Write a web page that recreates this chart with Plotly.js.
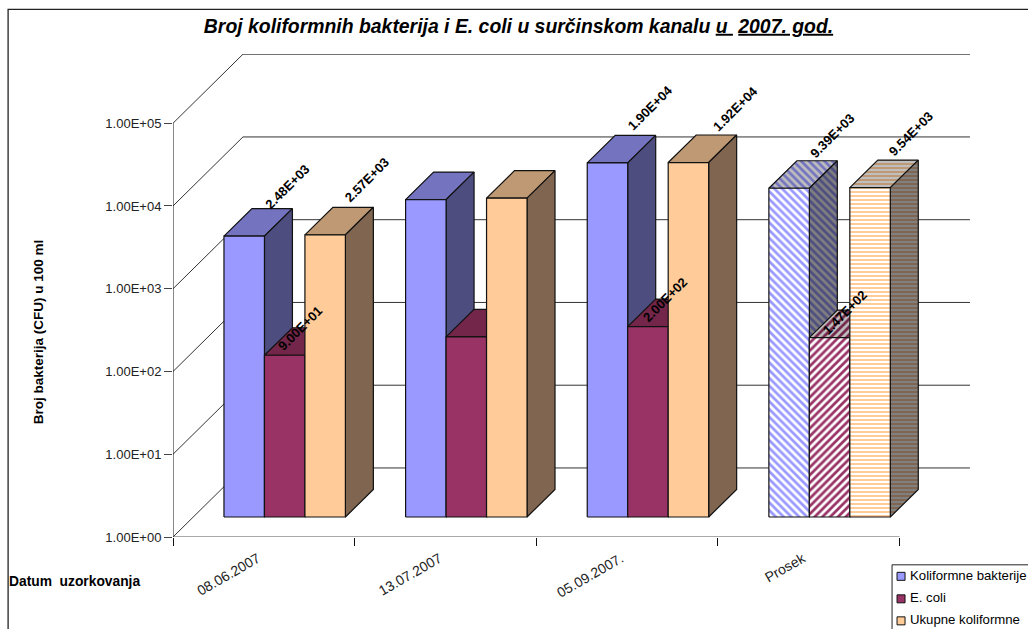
<!DOCTYPE html>
<html>
<head>
<meta charset="utf-8">
<script src="https://cdn.plot.ly/plotly-3.0.1.min.js"></script>
<style>html,body{margin:0;padding:0;background:#fff;overflow:hidden}#chart{width:1028px;height:629px}</style>
</head>
<body>
<div id="chart"></div>
<script>
// ---- data ----
const categories = ['08.06.2007', '13.07.2007', '05.09.2007.', 'Prosek'];
const seriesNames = ['Koliformne bakterije', 'E. coli', 'Ukupne koliformne'];
const koliformne = [2480, 6850, 19000, 9390];
const eColi = [90, 150, 200, 147];
const ukupne = [2570, 7130, 19200, 9540];
const koliformneLabels = ['2.48E+03', null, '1.90E+04', '9.39E+03'];
const eColiLabels = ['9.00E+01', null, '2.00E+02', '1.47E+02'];
const ukupneLabels = ['2.57E+03', null, '1.92E+04', '9.54E+03'];
const decades = [0, 1, 2, 3, 4, 5];
const decadeLabels = ['1.00E+00', '1.00E+01', '1.00E+02', '1.00E+03', '1.00E+04', '1.00E+05'];

// ---- layout constants (pixels of the page) ----
const W = 1028, H = 629;
const plotL = 172.5, plotR = 970, plotT = 54, plotB = 536.7;
const catPx = 181.75, decPx = 82.7;
const xMax = (plotR - plotL) / catPx;
const yMax = (plotB - plotT) / decPx;
const pxX = px => px / catPx, pxY = px => px / decPx;
const wallDX = pxX(70), wallDY = pxY(69);
const floorDX = pxX(20), floorDY = pxY(20);
const barDX = pxX(28), barDY = pxY(27.5);
const barGap = pxX(31), barW = pxX(40.5);

// ---- styles ----
const FONT = 'Liberation Sans, Arial, sans-serif';
const styles = [
  {front: '#9999FF', top: '#7373BF', side: '#4D4D80', shape: '\\', size: 5.5},
  {front: '#993366', top: '#732649', side: '#4D1A33', shape: '/', size: 5.5},
  {front: '#FFCC99', top: '#BF9973', side: '#806650', shape: '-', size: 4}
];
const series = [koliformne, eColi, ukupne];
const labels = [koliformneLabels, eColiLabels, ukupneLabels];
const labelOffset = [
  [[23, 50], null, [23, 55], [23, 53]],
  [[-5, 27], null, [-3, 27], [-5, 25]],
  [[22, 55], null, [27, 54], [21, 54]]
];
const PATTERN_CATEGORY = 3;

const traces = [];
function line(name, xs, ds, color, width) {
  traces.push({type: 'scatter', mode: 'lines', name, x: xs, y: ds.map(d => Math.pow(10, d)),
    line: {color, width, simplify: false}, hoverinfo: 'skip', showlegend: false, cliponaxis: false});
}
function face(name, xs, ds, color, pattern) {
  const t = {type: 'scatter', mode: 'lines', name, x: xs.concat(xs[0]),
    y: ds.concat(ds[0]).map(d => Math.pow(10, d)), fill: 'toself', fillcolor: color,
    line: {color: '#111', width: 1.2}, hoverinfo: 'skip', showlegend: false, cliponaxis: false};
  if (pattern) t.fillpattern = pattern;
  traces.push(t);
}

// back wall grid and side wall diagonals
decades.forEach(d => {
  line('grid ' + d, [0, wallDX, xMax], [d, d + wallDY, d + wallDY], '#333', 1);
});
// axis lines
line('y axis', [0, 0], [0, 5], '#111', 1);
line('x axis', [0, categories.length], [0, 0], '#555', 1.2);

// 3-D columns
const annotations = [];
categories.forEach((cat, i) => {
  series.forEach((vals, s) => {
    const st = styles[s];
    const x0 = i + floorDX + barGap + s * barW, x1 = x0 + barW;
    const d0 = floorDY, d1 = Math.log10(vals[i]) + floorDY;
    const hatched = i === PATTERN_CATEGORY;
    const pat = (fg, bg) => hatched ? {shape: st.shape, fgcolor: fg, bgcolor: bg, size: st.size, solidity: 0.5, fillmode: 'replace'} : null;
    face(seriesNames[s] + ' top ' + cat,
      [x0, x1, x1 + barDX, x0 + barDX], [d1, d1, d1 + barDY, d1 + barDY],
      hatched ? '#BFBFBF' : st.top, pat(st.top, '#BFBFBF'));
    face(seriesNames[s] + ' side ' + cat,
      [x1, x1 + barDX, x1 + barDX, x1], [d0, d0 + barDY, d1 + barDY, d1],
      hatched ? '#808080' : st.side, pat(st.side, '#808080'));
    face(seriesNames[s] + ' ' + cat,
      [x0, x1, x1, x0], [d0, d0, d1, d1],
      hatched ? '#FFFFFF' : st.front, pat(st.front, '#FFFFFF'));
    if (labels[s][i]) {
      annotations.push({xref: 'x', yref: 'y', x: x1, y: d1, text: '<b>' + labels[s][i] + '</b>', textangle: -45,
        showarrow: false, xanchor: 'center', yanchor: 'middle',
        xshift: labelOffset[s][i][0], yshift: labelOffset[s][i][1],
        font: {family: FONT, size: 13, color: '#000'}});
    }
  });
});

// chrome helpers in paper coordinates
const paperX = px => (px - plotL) / (plotR - plotL);
const paperY = py => (plotB - py) / (plotB - plotT);
function text(t, px, py, size, anchor, angle) {
  annotations.push({xref: 'paper', yref: 'paper', x: paperX(px), y: paperY(py), text: t, showarrow: false,
    xanchor: anchor, yanchor: 'middle', textangle: angle || 0, font: {family: FONT, size, color: '#000'}});
}
text('<b>Broj bakterija (CFU) u 100 ml</b>', 38, 331.5, 13.5, 'center', -90);
text('<b>Datum\u00A0\u00A0uzorkovanja</b>', 6.5, 581, 13.8, 'left');

const shapes = [
  {type: 'rect', xref: 'paper', yref: 'paper', x0: paperX(7.5), x1: paperX(W + 20), y0: paperY(H + 20), y1: paperY(9.5),
   line: {color: '#222', width: 1.3}, fillcolor: 'rgba(0,0,0,0)', layer: 'below'},
  {type: 'rect', xref: 'paper', yref: 'paper', x0: paperX(892), x1: paperX(W + 20), y0: paperY(H + 20), y1: paperY(564.5),
   line: {color: '#222', width: 1}, fillcolor: '#fff', layer: 'above'}
];
const legendRows = [576, 598.5, 620.5];
seriesNames.forEach((n, k) => {
  shapes.push({type: 'rect', xref: 'paper', yref: 'paper', x0: paperX(897), x1: paperX(905),
    y0: paperY(legendRows[k] + 4), y1: paperY(legendRows[k] - 4), line: {color: '#111', width: 1}, fillcolor: styles[k].front, layer: 'above'});
  text(n, 907.5, legendRows[k] - 1, 13.2, 'left');
});

const layout = {
  width: W, height: H, autosize: false, showlegend: false, hovermode: false, dragmode: false,
  paper_bgcolor: '#fff', plot_bgcolor: '#fff',
  margin: {l: plotL, r: W - plotR, t: plotT, b: H - plotB, pad: 0},
  title: {text: '<b><i>Broj koliformnih bakterija i E. coli u surčinskom kanalu <u>u </u> <u>2007. god.</u></i></b>',
    font: {family: FONT, size: 19.4, color: '#000'}, x: 518.5 / W, xref: 'container', xanchor: 'center',
    y: 1 - 26 / H, yref: 'container', yanchor: 'middle'},
  xaxis: {type: 'linear', range: [0, xMax], fixedrange: true, showgrid: false, zeroline: false, showline: false,
    tickmode: 'array', tickvals: categories.map((c, i) => i + 0.5), ticktext: categories, tickangle: -30,
    ticks: '', tickfont: {family: FONT, size: 14, color: '#222'}, ticklabelshift: -6, ticklabelstandoff: 10,
    minor: {tickmode: 'array', tickvals: [0, 1, 2, 3, 4], ticks: 'outside', ticklen: 8, tickcolor: '#111', tickwidth: 1, showgrid: false}},
  yaxis: {type: 'log', range: [0, yMax], fixedrange: true, showgrid: false, zeroline: false, showline: false,
    tickmode: 'array', tickvals: decades.map(d => Math.pow(10, d)), ticktext: decadeLabels,
    ticks: 'outside', ticklen: 8, tickcolor: '#444', tickwidth: 1,
    tickfont: {family: FONT, size: 13, color: '#222'}},
  annotations, shapes
};
Plotly.newPlot('chart', traces, layout, {staticPlot: true, displayModeBar: false});
</script>
</body>
</html>
